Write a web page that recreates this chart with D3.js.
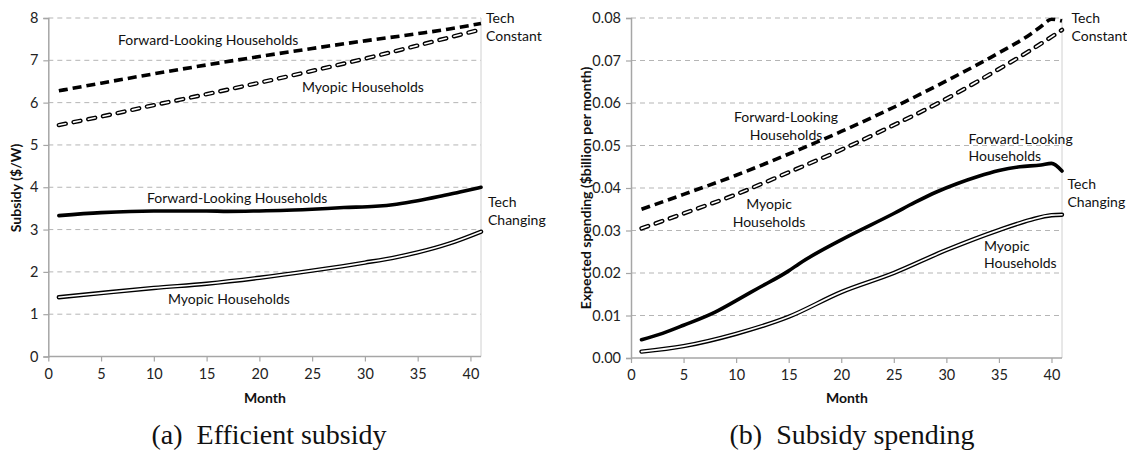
<!DOCTYPE html>
<html>
<head>
<meta charset="utf-8">
<script src="https://cdn.jsdelivr.net/npm/d3@7"></script>
<style>
  html, body { margin: 0; padding: 0; background: #fff; }
  svg { display: block; }
  .tick text { font-family: Lato, "Noto Sans", sans-serif; font-size: 14.5px; fill: #222; }
  .lbl { font-family: Lato, "Noto Sans", sans-serif; font-size: 14px; fill: #111; }
  .axtitle { font-family: Lato, "Noto Sans", sans-serif; font-size: 14px; font-weight: bold; fill: #111; }
  .caption { font-family: "Liberation Serif", "DejaVu Serif", serif; font-size: 28px; fill: #111; }
</style>
</head>
<body>
<svg id="chart" width="1127" height="451"></svg>
<script>
// ---------- Panel (a): efficient subsidy ($/W) ----------
const aFwdConstMonths = [1, 5, 10, 15, 20, 25, 30, 35, 38, 41];
const aFwdConst       = [6.28, 6.46, 6.68, 6.89, 7.09, 7.28, 7.46, 7.63, 7.74, 7.87];
const aMyoConstMonths = [1, 5, 10, 15, 20, 25, 30, 35, 38, 41];
const aMyoConst       = [5.47, 5.67, 5.94, 6.20, 6.47, 6.75, 7.04, 7.35, 7.54, 7.73];
const aFwdChgMonths   = [1, 5, 10, 15, 17, 20, 22, 25, 28, 31, 33, 35, 37, 39, 41];
const aFwdChg         = [3.33, 3.40, 3.44, 3.44, 3.43, 3.44, 3.45, 3.48, 3.52, 3.55, 3.60, 3.68, 3.78, 3.89, 4.00];
const aMyoChgMonths   = [1, 5, 10, 15, 20, 25, 30, 33, 35, 38, 41];
const aMyoChg         = [1.40, 1.50, 1.62, 1.72, 1.86, 2.03, 2.22, 2.35, 2.46, 2.67, 2.95];
const aYTicks = [0, 1, 2, 3, 4, 5, 6, 7, 8];

// ---------- Panel (b): subsidy spending ($billion per month) ----------
const bFwdConstMonths = [1, 5, 10, 15, 20, 25, 30, 35, 38, 39, 40, 41];
const bFwdConst       = [0.0350, 0.0385, 0.0430, 0.0480, 0.0533, 0.0590, 0.0652, 0.0718, 0.0762, 0.0780, 0.0797, 0.0793];
const bMyoConstMonths = [1, 5, 10, 15, 20, 25, 30, 35, 38, 41];
const bMyoConst       = [0.0305, 0.0340, 0.0385, 0.0437, 0.0490, 0.0548, 0.0610, 0.0680, 0.0724, 0.0772];
const bFwdChgMonths   = [1, 3, 5, 8, 10, 12, 15, 16, 20, 25, 27, 29, 31, 33, 35, 37, 39, 40, 41];
const bFwdChg         = [0.0043, 0.0058, 0.0077, 0.0108, 0.0135, 0.0163, 0.0205, 0.0222, 0.0278, 0.0340, 0.0366, 0.0390, 0.0410, 0.0427, 0.0441, 0.0450, 0.0454, 0.0458, 0.0440];
const bMyoChgMonths   = [1, 5, 10, 15, 20, 25, 30, 35, 38, 40, 41];
const bMyoChg         = [0.0015, 0.0028, 0.0057, 0.0097, 0.0155, 0.0200, 0.0254, 0.0301, 0.0325, 0.0336, 0.0337];
const bYTicks = [0, 0.01, 0.02, 0.03, 0.04, 0.05, 0.06, 0.07, 0.08];

const xTicks = [0, 5, 10, 15, 20, 25, 30, 35, 40];

const svg = d3.select("#chart");
const zip = (ms, vs) => ms.map((m, i) => ({ m, v: vs[i] }));

function drawPanel(cfg) {
  const x = d3.scaleLinear().domain([0, 41]).range([cfg.left, cfg.right]);
  const y = d3.scaleLinear().domain([0, cfg.yMax]).range([cfg.bottom, cfg.top]);
  const g = svg.append("g");

  // horizontal dashed gridlines
  g.selectAll("line.grid").data(cfg.yTicks.filter(t => t > 0)).join("line")
    .attr("x1", cfg.left).attr("x2", cfg.right)
    .attr("y1", d => y(d)).attr("y2", d => y(d))
    .attr("stroke", "#b5b5b5").attr("stroke-width", 1).attr("stroke-dasharray", "5,4");

  // right border of the plot area
  g.append("line")
    .attr("x1", cfg.right).attr("x2", cfg.right).attr("y1", cfg.top).attr("y2", cfg.bottom)
    .attr("stroke", "#d0d0d0").attr("stroke-width", 1);

  // axes
  const yAxis = d3.axisLeft(y).tickValues(cfg.yTicks).tickFormat(cfg.yFmt).tickSizeOuter(0).tickSize(5).tickPadding(5);
  const xAxis = d3.axisBottom(x).tickValues(xTicks).tickFormat(d3.format("d")).tickSizeOuter(0).tickSize(5).tickPadding(7);
  const gy = g.append("g").attr("transform", `translate(${cfg.left},0)`).call(yAxis);
  const gx = g.append("g").attr("transform", `translate(0,${cfg.bottom})`).call(xAxis);
  [gx, gy].forEach(a => {
    a.select(".domain").attr("stroke", "#a6a6a6").attr("stroke-width", 1.5);
    a.selectAll(".tick line").attr("stroke", "#a6a6a6").attr("stroke-width", 1.2);
  });
  gx.select(".domain").attr("d", `M${cfg.left},0H${cfg.right}`);

  const line = d3.line().x(d => x(d.m)).y(d => y(d.v)).curve(d3.curveMonotoneX);

  // tech-constant, forward-looking: heavy dashed
  g.append("path").datum(zip(cfg.fwdConstM, cfg.fwdConst)).attr("d", line)
    .attr("fill", "none").attr("stroke", "#000").attr("stroke-width", 3.6)
    .attr("stroke-dasharray", "9,5");

  // tech-constant, myopic: hollow (double) dashes
  const myoC = zip(cfg.myoConstM, cfg.myoConst);
  g.append("path").datum(myoC).attr("d", line)
    .attr("fill", "none").attr("stroke", "#000").attr("stroke-width", 4.4)
    .attr("stroke-linecap", "round").attr("stroke-dasharray", "7,8");
  g.append("path").datum(myoC).attr("d", line)
    .attr("fill", "none").attr("stroke", "#fff").attr("stroke-width", 1.6)
    .attr("stroke-linecap", "round").attr("stroke-dasharray", "7,8");

  // tech-changing, forward-looking: heavy solid
  g.append("path").datum(zip(cfg.fwdChgM, cfg.fwdChg)).attr("d", line)
    .attr("fill", "none").attr("stroke", "#000").attr("stroke-width", 3.6)
    .attr("stroke-linejoin", "round").attr("stroke-linecap", "round");

  // tech-changing, myopic: hollow (double) solid
  const myoG = zip(cfg.myoChgM, cfg.myoChg);
  g.append("path").datum(myoG).attr("d", line)
    .attr("fill", "none").attr("stroke", "#000").attr("stroke-width", 4.4)
    .attr("stroke-linecap", "round");
  g.append("path").datum(myoG).attr("d", line)
    .attr("fill", "none").attr("stroke", "#fff").attr("stroke-width", 1.7)
    .attr("stroke-linecap", "round");

  // axis titles
  g.append("text").attr("class", "axtitle")
    .attr("transform", `translate(${cfg.yTitleX},${cfg.yTitleY}) rotate(-90)`)
    .attr("text-anchor", "middle").attr("dominant-baseline", "central")
    .text(cfg.yTitle);
  g.append("text").attr("class", "axtitle")
    .attr("x", cfg.xTitleX).attr("y", 397)
    .attr("text-anchor", "middle").attr("dominant-baseline", "central")
    .text("Month");

  // series labels
  cfg.labels.forEach(l => {
    const t = g.append("text").attr("class", "lbl")
      .attr("text-anchor", l.anchor || "start");
    l.lines.forEach((s, i) => {
      t.append("tspan").attr("x", l.x).attr("y", l.y + i * 17.5)
        .attr("dominant-baseline", "central").text(s);
    });
  });

  // panel caption
  svg.append("text").attr("class", "caption")
    .attr("x", cfg.capX).attr("y", 444).attr("text-anchor", "middle")
    .attr("xml:space", "preserve")
    .text(cfg.caption);
}

drawPanel({
  left: 48.3, right: 481, top: 18, bottom: 356.5, yMax: 8,
  yTicks: aYTicks, yFmt: d3.format("d"),
  fwdConstM: aFwdConstMonths, fwdConst: aFwdConst,
  myoConstM: aMyoConstMonths, myoConst: aMyoConst,
  fwdChgM: aFwdChgMonths, fwdChg: aFwdChg,
  myoChgM: aMyoChgMonths, myoChg: aMyoChg,
  yTitle: "Subsidy ($/W)", yTitleX: 15, yTitleY: 188, xTitleX: 265,
  labels: [
    { x: 118, y: 39.5, lines: ["Forward-Looking Households"] },
    { x: 302, y: 86, lines: ["Myopic Households"] },
    { x: 486, y: 17.5, lines: ["Tech", "Constant"] },
    { x: 147, y: 197.5, lines: ["Forward-Looking Households"] },
    { x: 168, y: 298, lines: ["Myopic Households"] },
    { x: 488, y: 201.5, lines: ["Tech", "Changing"] }
  ],
  caption: "(a)  Efficient subsidy", capX: 269
});

drawPanel({
  left: 631, right: 1062, top: 18, bottom: 358, yMax: 0.08,
  yTicks: bYTicks, yFmt: d3.format(".2f"),
  fwdConstM: bFwdConstMonths, fwdConst: bFwdConst,
  myoConstM: bMyoConstMonths, myoConst: bMyoConst,
  fwdChgM: bFwdChgMonths, fwdChg: bFwdChg,
  myoChgM: bMyoChgMonths, myoChg: bMyoChg,
  yTitle: "Expected spending ($billion per month)", yTitleX: 585, yTitleY: 188, xTitleX: 847,
  labels: [
    { x: 786, y: 116.5, anchor: "middle", lines: ["Forward-Looking", "Households"] },
    { x: 769, y: 203.5, anchor: "middle", lines: ["Myopic", "Households"] },
    { x: 1071.5, y: 17.5, lines: ["Tech", "Constant"] },
    { x: 968.5, y: 138, lines: ["Forward-Looking", "Households"] },
    { x: 1067.5, y: 183.5, lines: ["Tech", "Changing"] },
    { x: 984, y: 245, lines: ["Myopic", "Households"] }
  ],
  caption: "(b)  Subsidy spending", capX: 852
});
</script>
</body>
</html>
